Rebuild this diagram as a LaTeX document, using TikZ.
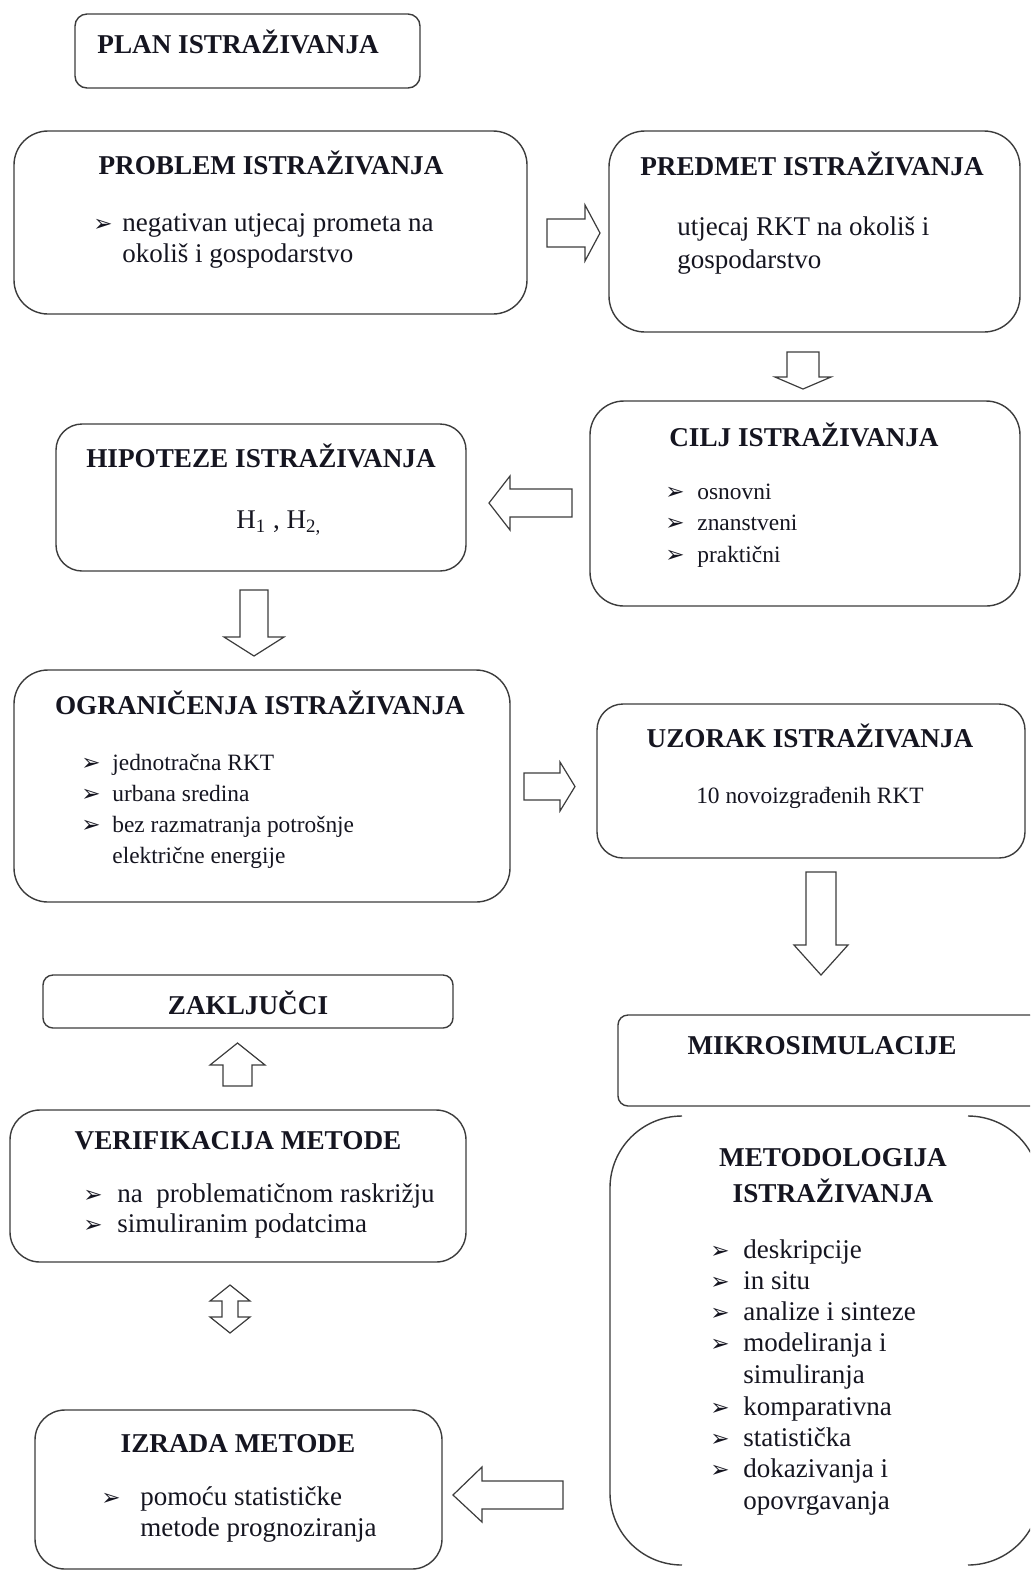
\documentclass[tikz,border=0pt]{standalone}
\usepackage{fontspec}
\setmainfont{Liberation Serif}
\newfontfamily\dejavu{DejaVu Sans}
\definecolor{lc}{HTML}{3C3C3C}
\definecolor{tc}{HTML}{151520}
\newcommand\ttlfont{\fontsize{13.6}{16}\selectfont\bfseries}
\newcommand\bigbody{\fontsize{13.5}{15.5}\selectfont}
\newcommand\smallbody{\fontsize{11.7}{15.5}\selectfont}
\newcommand\bul{{\dejavu\fontsize{11.5}{11.5}\selectfont ➢}}
\begin{document}
\begin{tikzpicture}[x=0.5pt,y=-0.5pt,
  box/.style={draw=lc, line width=0.7pt, inner sep=0pt},
  ttl/.style={font=\ttlfont, text=tc, anchor=base, inner sep=0pt},
  bt/.style={font=\bigbody, text=tc, anchor=base west, inner sep=0pt},
  st/.style={font=\smallbody, text=tc, anchor=base west, inner sep=0pt},
  bl/.style={anchor=base west, inner sep=0pt, text=tc},
  barrow/.style={draw=lc, line width=0.6pt, fill=white, line join=miter}]
\clip (0,0) rectangle (1030,1571);
\fill[white] (0,0) rectangle (1030,1571);

% ---------- boxes ----------
\node[box, rounded corners=6pt, minimum width=172.5pt, minimum height=37pt] (plan) at (247.5,51) {};
\node[box, rounded corners=17pt, minimum width=256.5pt, minimum height=91.5pt] (problem) at (270.5,222.5) {};
\node[box, rounded corners=18pt, minimum width=205.5pt, minimum height=100.5pt] (predmet) at (814.5,231.5) {};
\node[box, rounded corners=17pt, minimum width=215pt, minimum height=102.5pt] (cilj) at (805,503.5) {};
\node[box, rounded corners=13pt, minimum width=205pt, minimum height=73.5pt] (hip) at (261,497.5) {};
\node[box, rounded corners=17pt, minimum width=248pt, minimum height=116pt] (ogr) at (262,786) {};
\node[box, rounded corners=13pt, minimum width=214pt, minimum height=77pt] (uz) at (811,781) {};
\node[box, rounded corners=5pt, minimum width=211pt, minimum height=45.5pt] (mikro) at (829,1060.5) {};
\node[box, rounded corners=5pt, minimum width=205pt, minimum height=26.5pt] (zak) at (248,1001.5) {};
\node[box, rounded corners=15pt, minimum width=228pt, minimum height=76pt] (ver) at (238,1186) {};
\node[box, rounded corners=15pt, minimum width=203.5pt, minimum height=79.5pt] (izr) at (238.5,1489.5) {};

% METODOLOGIJA: only corners and sides
\coordinate (mTL) at (682,1116);
\coordinate (mBL) at (682,1565);
\coordinate (mTR) at (968,1116);
\coordinate (mBR) at (968,1565);
\draw[lc, line width=0.7pt, rounded corners=36pt] (mTL) -- (610,1116) -- (610,1565) -- (mBL);
\draw[lc, line width=0.7pt, rounded corners=36pt] (mTR) -- (1040,1116) -- (1040,1565) -- (mBR);

% ---------- block arrows ----------
\draw[barrow] (547,219) -- (585,219) -- (585,205) -- (600,233) -- (585,261) -- (585,247) -- (547,247) -- cycle;
\draw[barrow] (787,352) -- (819,352) -- (819,377) -- (831,377) -- (803,389) -- (775,377) -- (787,377) -- cycle;
\draw[barrow] (572,489) -- (510,489) -- (510,476) -- (489,503) -- (510,530) -- (510,517) -- (572,517) -- cycle;
\draw[barrow] (240,590) -- (268,590) -- (268,637) -- (284,637) -- (254,656) -- (224,637) -- (240,637) -- cycle;
\draw[barrow] (524,773) -- (560,773) -- (560,762) -- (575,786.5) -- (560,811) -- (560,800) -- (524,800) -- cycle;
\draw[barrow] (806,872) -- (836,872) -- (836,945) -- (848,945) -- (821,975) -- (794,945) -- (806,945) -- cycle;
\draw[barrow] (223,1086) -- (223,1065) -- (210,1065) -- (237.5,1043) -- (265,1065) -- (252,1065) -- (252,1086) -- cycle;
\draw[barrow] (222,1301) -- (210,1301) -- (230,1285) -- (250,1301) -- (238,1301) -- (238,1317) -- (250,1317) -- (230,1333) -- (210,1317) -- (222,1317) -- cycle;
\draw[barrow] (563,1481) -- (482,1481) -- (482,1467) -- (453,1495) -- (482,1522) -- (482,1509) -- (563,1509) -- cycle;

% ---------- texts ----------
\node[ttl, anchor=base west] (tplan) at (97,53) {PLAN ISTRAŽIVANJA};

\node[ttl] (tproblem) at (271,174) {PROBLEM ISTRAŽIVANJA};
\node[bl] (bp1) at (93,231) {\bul};
\node[bt] (p1) at (122,231) {negativan utjecaj prometa na};
\node[bt] (p2) at (122,262) {okoliš i gospodarstvo};

\node[ttl] (tpredmet) at (812,175) {PREDMET ISTRAŽIVANJA};
\node[bt] (r1) at (677,235) {utjecaj RKT na okoliš i};
\node[bt] (r2) at (677,268) {gospodarstvo};

\node[ttl] (tcilj) at (804,446) {CILJ ISTRAŽIVANJA};
\node[bl] (bc1) at (665,499) {\bul};
\node[st] (c1) at (697,499) {osnovni};
\node[bl] (bc2) at (665,530) {\bul};
\node[st] (c2) at (697,530) {znanstveni};
\node[bl] (bc3) at (665,562) {\bul};
\node[st] (c3) at (697,562) {praktični};

\node[ttl] (thip) at (261,467) {HIPOTEZE ISTRAŽIVANJA};
\node[bt] (h1) at (236,528) {H\textsubscript{1} , H\textsubscript{2,}};

\node[ttl] (togr) at (260,714) {OGRANIČENJA ISTRAŽIVANJA};
\node[bl] (bo1) at (81,770) {\bul};
\node[st] (o1) at (112,770) {jednotračna RKT};
\node[bl] (bo2) at (81,801) {\bul};
\node[st] (o2) at (112,801) {urbana sredina};
\node[bl] (bo3) at (81,832) {\bul};
\node[st] (o3) at (112,832) {bez razmatranja potrošnje};
\node[st] (o4) at (112,863) {električne energije};

\node[ttl] (tuz) at (810,747) {UZORAK ISTRAŽIVANJA};
\node[st, anchor=base] (u1) at (810,803) {10 novoizgrađenih RKT};

\node[ttl] (tmikro) at (822,1054) {MIKROSIMULACIJE};

\node[ttl] (tmet1) at (833,1166) {METODOLOGIJA};
\node[ttl] (tmet2) at (833,1202) {ISTRAŽIVANJA};
\node[bl] (bm1) at (710,1258) {\bul};
\node[bt] (m1) at (743,1258) {deskripcije};
\node[bl] (bm2) at (710,1289) {\bul};
\node[bt] (m2) at (743,1289) {in situ};
\node[bl] (bm3) at (710,1320) {\bul};
\node[bt] (m3) at (743,1320) {analize i sinteze};
\node[bl] (bm4) at (710,1351) {\bul};
\node[bt] (m4) at (743,1351) {modeliranja i};
\node[bt] (m5) at (743,1383) {simuliranja};
\node[bl] (bm6) at (710,1415) {\bul};
\node[bt] (m6) at (743,1415) {komparativna};
\node[bl] (bm7) at (710,1446) {\bul};
\node[bt] (m7) at (743,1446) {statistička};
\node[bl] (bm8) at (710,1477) {\bul};
\node[bt] (m8) at (743,1477) {dokazivanja i};
\node[bt] (m9) at (743,1509) {opovrgavanja};

\node[ttl] (tzak) at (248,1014) {ZAKLJUČCI};

\node[ttl] (tver) at (238,1149) {VERIFIKACIJA METODE};
\node[bl] (bv1) at (83,1202) {\bul};
\node[bt] (v1) at (117,1202) {na\ \ problematičnom raskrižju};
\node[bl] (bv2) at (83,1232) {\bul};
\node[bt] (v2) at (117,1232) {simuliranim podatcima};

\node[ttl] (tizr) at (238,1452) {IZRADA METODE};
\node[bl] (bi1) at (101,1505) {\bul};
\node[bt] (i1) at (140,1505) {pomoću statističke};
\node[bt] (i2) at (140,1536) {metode prognoziranja};
\end{tikzpicture}
\end{document}
